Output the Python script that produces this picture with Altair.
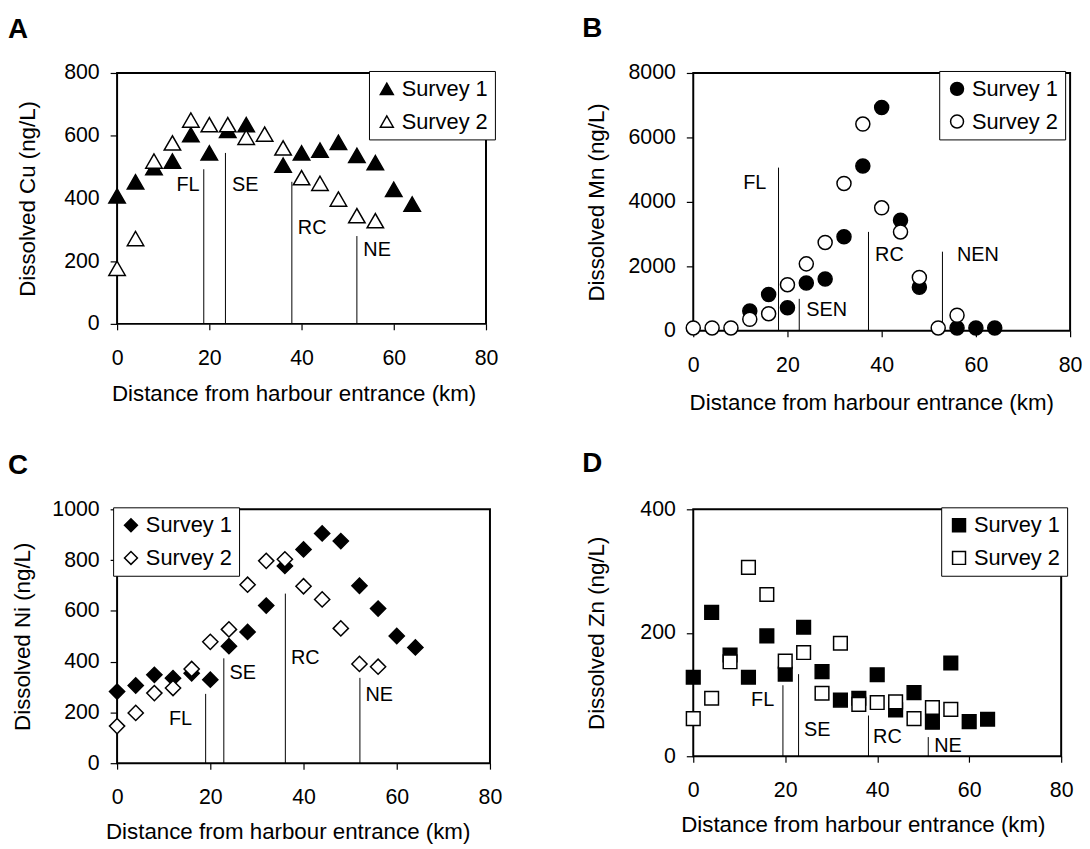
import altair as alt
import pandas as pd

FONT = "Liberation Sans"
SERIES = ["Survey 1", "Survey 2"]
X_DOMAIN = [0, 80]
X_TICKS = [0, 20, 40, 60, 80]
X_TITLE = "Distance from harbour entrance (km)"

# ---------------- Panel A : Cu ----------------
CU_X1 = [0, 4, 8, 12, 16, 20, 24, 28, 36, 40, 44, 48, 52, 56, 60, 64]
CU_Y1 = [408, 453, 498, 519, 603, 545, 617, 635, 506, 545, 554, 579, 537, 514, 429, 382]
CU_X2 = [0, 4, 8, 12, 16, 20, 24, 28, 32, 36, 40, 44, 48, 52, 56]
CU_Y2 = [177, 272, 519, 577, 650, 635, 635, 595, 605, 561, 466, 448, 398, 345, 329]
CU_TICKS = [0, 200, 400, 600, 800]
CU_ZONES = ["FL", "SE", "RC", "NE"]
CU_LINE_X = [18.8, 23.5, 37.9, 52.0]
CU_LINE_TOP = [493, 545, 453, 280]
CU_LAB_X = [17.9, 24.9, 39.2, 53.4]
CU_LAB_Y = [444, 444, 307, 234]

# ---------------- Panel B : Mn ----------------
MN_X1 = [12, 16, 20, 24, 28, 32, 36, 40, 44, 48, 56, 60, 64]
MN_Y1 = [614, 1125, 716, 1483, 1606, 2916, 5115, 6926, 3427, 1350, 90, 90, 90]
MN_X2 = [0, 4, 8, 12, 16, 20, 24, 28, 32, 36, 40, 44, 48, 52, 56]
MN_Y2 = [90, 90, 90, 358, 532, 1432, 2077, 2742, 4573, 6414, 3816, 3069, 1657, 90, 481]
MN_TICKS = [0, 2000, 4000, 6000, 8000]
MN_ZONES = ["FL", "SEN", "RC", "NEN"]
MN_LINE_X = [18.1, 22.5, 37.2, 52.9]
MN_LINE_TOP = [5064, 992, 3069, 2455]
MN_LAB_X = [15.5, 24.0, 38.6, 56.0]
MN_LAB_Y = [4583, 654, 2342, 2342]

# ---------------- Panel C : Ni ----------------
NI_X1 = [0, 4, 8, 12, 16, 20, 24, 28, 32, 36, 40, 44, 48, 52, 56, 60, 64]
NI_Y1 = [282, 306, 348, 335, 354, 329, 461, 517, 621, 777, 842, 905, 875, 699, 609, 501, 456]
NI_X2 = [0, 4, 8, 12, 16, 20, 24, 28, 32, 36, 40, 44, 48, 52, 56]
NI_Y2 = [146, 198, 276, 296, 371, 478, 527, 703, 797, 803, 697, 645, 531, 391, 380]
NI_TICKS = [0, 200, 400, 600, 800, 1000]
NI_ZONES = ["FL", "SE", "RC", "NE"]
NI_LINE_X = [19.0, 22.9, 36.1, 52.1]
NI_LINE_TOP = [273, 413, 668, 336]
NI_LAB_X = [16.1, 24.1, 37.3, 53.3]
NI_LAB_Y = [175, 356, 413, 270]

# ---------------- Panel D : Zn ----------------
ZN_X1 = [0, 4, 8, 12, 16, 20, 24, 28, 32, 36, 40, 44, 48, 52, 56, 60, 64]
ZN_Y1 = [128, 233, 164, 128, 195, 133, 209, 137, 91, 94, 132, 75, 103, 55, 151, 56, 60]
ZN_X2 = [0, 4, 8, 12, 16, 20, 24, 28, 32, 36, 40, 44, 48, 52, 56]
ZN_Y2 = [61, 94, 153, 306, 262, 154, 168, 102, 183, 84, 87, 88, 61, 79, 76]
ZN_TICKS = [0, 200, 400]
ZN_ZONES = ["FL", "SE", "RC", "NE"]
ZN_LINE_X = [19.5, 22.9, 38.1, 51.1]
ZN_LINE_TOP = [115, 133, 66, 31]
ZN_LAB_X = [17.6, 24.1, 39.1, 52.4]
ZN_LAB_Y = [91, 43, 31, 16.5]

# ---------------- layout / style per panel ----------------
LAYOUT = {
    "A": dict(pw=372, ph=253, xtx=178, xty=77, ytx=-78, lx=-110, ly=-35, legx=254, legy=-2),
    "B": dict(pw=380, ph=260, xtx=179.5, xty=79, ytx=-86, lx=-112, ly=-36, legx=248, legy=-2),
    "C": dict(pw=376, ph=256, xtx=172, xty=76, ytx=-83, lx=-110, ly=-36, legx=-4, legy=-2),
    "D": dict(pw=371, ph=249, xtx=171, xty=76, ytx=-86, lx=-112, ly=-38, legx=250, legy=-2),
}


def panel(letter, ytitle, x1, y1, x2, y2, yticks, zones, line_x, line_top,
          lab_x, lab_y, shape, msize):
    L = LAYOUT[letter]
    ymax = yticks[-1]
    xscale = alt.Scale(domain=X_DOMAIN, nice=False, zero=False)
    yscale = alt.Scale(domain=[0, ymax], nice=False)
    xaxis = alt.Axis(values=X_TICKS, title=X_TITLE, grid=False, domain=False,
                     ticks=True, tickSize=6, tickColor="black", tickWidth=1.2,
                     labelFontSize=21.5, labelColor="black", labelFlush=False,
                     labelFont=FONT, titleFont=FONT, titleX=L["xtx"], titleY=L["xty"],
                     titleBaseline="alphabetic")
    yaxis = alt.Axis(values=yticks, format="d", title=ytitle, grid=False, domain=False,
                     ticks=True, tickSize=7, tickColor="black", tickWidth=1.2,
                     labelFontSize=21.5, labelColor="black",
                     labelFont=FONT, titleFont=FONT, titleX=L["ytx"], titleY=L["ph"] / 2,
                     titleBaseline="bottom")

    X = lambda f: alt.X(f, type="quantitative", scale=xscale, axis=xaxis)
    Y = lambda f: alt.Y(f, type="quantitative", scale=yscale, axis=yaxis)

    # plot-area frame spanning the full axis domains
    box_df = pd.DataFrame({"x": [X_DOMAIN[0]], "x2": [X_DOMAIN[1]], "y": [0], "y2": [ymax]})
    frame = alt.Chart(box_df).mark_rect(fillOpacity=0, stroke="black", strokeWidth=2).encode(
        x=X("x"), x2="x2:Q", y=Y("y"), y2="y2:Q")

    rule_df = pd.DataFrame({"x": line_x, "y": [0] * len(line_x), "y2": line_top})
    rules = alt.Chart(rule_df).mark_rule(color="black").encode(
        x=X("x"), y=Y("y"), y2="y2:Q")

    lab_df = pd.DataFrame({"x": lab_x, "y": lab_y, "zone": zones})
    lab_r = alt.Chart(lab_df.iloc[:1]).mark_text(align="right", fontSize=20).encode(
        x=X("x"), y=Y("y"), text="zone:N")
    lab_l = alt.Chart(lab_df.iloc[1:]).mark_text(align="left", fontSize=20).encode(
        x=X("x"), y=Y("y"), text="zone:N")

    letter_df = pd.DataFrame({"panel": [letter]})
    let = alt.Chart(letter_df).mark_text(align="left", baseline="alphabetic", fontSize=28,
                                         fontWeight="bold").encode(
        text="panel:N", x=alt.value(L["lx"]), y=alt.value(L["ly"]))

    pts = pd.DataFrame({"x": x1 + x2, "y": y1 + y2,
                        "survey": [SERIES[0]] * len(x1) + [SERIES[1]] * len(x2)})
    points = alt.Chart(pts).mark_point(shape=shape, filled=True, size=msize, stroke="black",
                                       opacity=1).encode(
        x=X("x"), y=Y("y"),
        fill=alt.Fill("survey:N", scale=alt.Scale(domain=SERIES, range=["black", "white"]),
                      legend=alt.Legend(title=None, orient="none", legendX=L["legx"],
                                        legendY=L["legy"], strokeColor="black",
                                        fillColor="white")))

    return alt.layer(frame, rules, lab_r, lab_l, let, points).properties(
        width=L["pw"], height=L["ph"])


pA = panel("A", "Dissolved Cu (ng/L)", CU_X1, CU_Y1, CU_X2, CU_Y2, CU_TICKS, CU_ZONES,
           CU_LINE_X, CU_LINE_TOP, CU_LAB_X, CU_LAB_Y, "triangle-up", 275)
pB = panel("B", "Dissolved Mn (ng/L)", MN_X1, MN_Y1, MN_X2, MN_Y2, MN_TICKS, MN_ZONES,
           MN_LINE_X, MN_LINE_TOP, MN_LAB_X, MN_LAB_Y, "circle", 200)
pC = panel("C", "Dissolved Ni (ng/L)", NI_X1, NI_Y1, NI_X2, NI_Y2, NI_TICKS, NI_ZONES,
           NI_LINE_X, NI_LINE_TOP, NI_LAB_X, NI_LAB_Y, "diamond", 235)
pD = panel("D", "Dissolved Zn (ng/L)", ZN_X1, ZN_Y1, ZN_X2, ZN_Y2, ZN_TICKS, ZN_ZONES,
           ZN_LINE_X, ZN_LINE_TOP, ZN_LAB_X, ZN_LAB_Y, "square", 190)

chart = (
    alt.concat(pA, pB, pC, pD, columns=2, spacing={"row": 180, "column": 205})
    .properties(bounds="flush", align="each", background="white",
                padding={"left": 0, "top": 4, "right": 0, "bottom": 0})
    .resolve_scale(fill="independent")
    .resolve_legend(fill="independent")
    .configure_view(strokeWidth=0)
    .configure_axis(titleFontSize=22.5, titleFontWeight="normal")
    .configure_axisX(labelPadding=18)
    .configure_axisY(labelPadding=11)
    .configure_legend(labelFont=FONT, labelFontSize=22, labelColor="black", padding=7,
                      rowPadding=11, symbolSize=170, symbolStrokeWidth=1.5)
    .configure_text(font=FONT, color="black")
    .configure_point(strokeWidth=1.5)
)

chart.save("out.html", embed_options={"renderer": "svg", "actions": False})
